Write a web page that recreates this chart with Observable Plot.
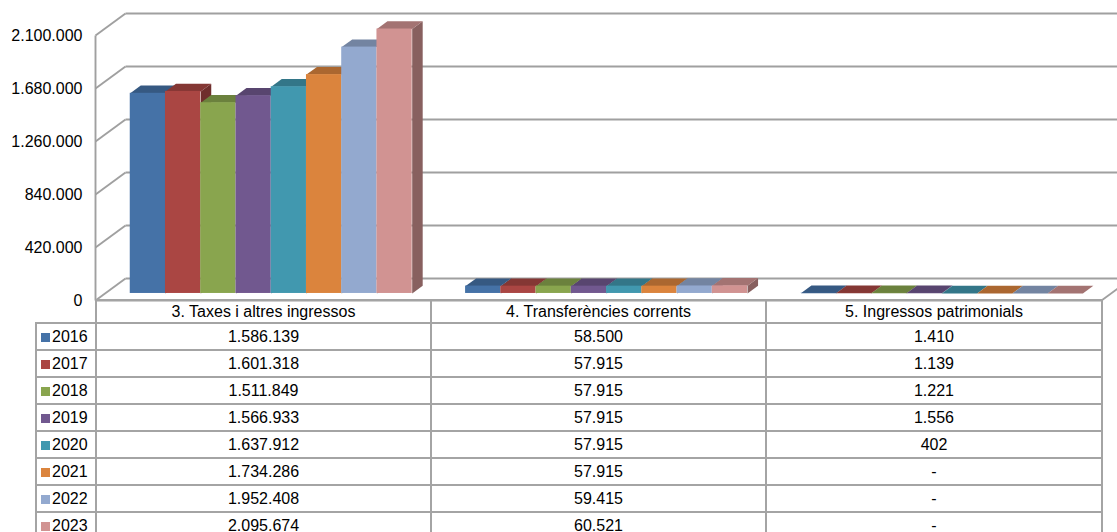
<!DOCTYPE html>
<html><head><meta charset="utf-8">
<script src="https://cdn.jsdelivr.net/npm/d3@7"></script>
<script src="https://cdn.jsdelivr.net/npm/@observablehq/plot@0.6"></script>
<style>
html,body{margin:0;padding:0;background:#fff;overflow:hidden;}
#wrap{position:relative;width:1117px;height:532px;font-family:"Liberation Sans",Arial,sans-serif;overflow:hidden;}
#chart{position:absolute;left:0;top:0;}
#tbl{position:absolute;left:35px;top:299px;border-collapse:collapse;table-layout:fixed;font-size:16px;color:#000;font-family:"Liberation Sans",Arial,sans-serif;}
#tbl td{border:2px solid #a4a4a4;text-align:center;padding:0;white-space:nowrap;overflow:hidden;line-height:18px;}
#tbl tr.h td{height:21px;}
#tbl tr.r td{height:25px;}
#tbl td.blank{border-top:none;border-left:none;}
#tbl td.leg{text-align:left;padding-left:4px;}
#tbl .sw{display:inline-block;width:9px;height:9px;margin-right:2px;vertical-align:0px;}
</style>
</head><body>
<div id="wrap"><div id="chart"></div></div>
<script>
const categories = ["3. Taxes i altres ingressos", "4. Transferències corrents", "5. Ingressos patrimonials"];
const years = ["2016", "2017", "2018", "2019", "2020", "2021", "2022", "2023"];
const colors = ["#4572A7", "#AA4643", "#89A54E", "#71588F", "#4198AF", "#DB843D", "#93A9CF", "#D19392"];
const taxes = [1586139, 1601318, 1511849, 1566933, 1637912, 1734286, 1952408, 2095674];
const transfers = [58500, 57915, 57915, 57915, 57915, 57915, 59415, 60521];
const patrimonials = [1410, 1139, 1221, 1556, 402, null, null, null];
const yTicks = [0, 420000, 840000, 1260000, 1680000, 2100000];

const series = [taxes, transfers, patrimonials];
const yMax = yTicks[yTicks.length - 1];
const locale = d3.formatLocale({decimal: ",", thousands: ".", grouping: [3], currency: ["", " €"]});
const fmt = locale.format(",d");

// 3D geometry (depth vector in data units)
const W = 1117, ML = 95, MR = 16, MT = 35, H = 315, MB = 15;
const bandPx = (W - ML - MR) / categories.length;
const DX = 30 / bandPx, DY = 22 / (H - MT - MB) * yMax;
const F1 = 0.32, F2 = 0.67, GAP = 0.075, BW = 0.1051;
const dd = F2 - F1;

const bars = [];
categories.forEach((c, i) => years.forEach((yr, j) => {
  const v = series[i][j] == null ? 0 : series[i][j];
  const x0 = i + GAP + j * BW + F1 * DX, x1 = x0 + BW;
  const b0 = F1 * DY, top = v + F1 * DY;
  bars.push({id: i + "-" + j, x0, x1, b0, top, color: colors[j],
    topColor: d3.color(colors[j]).darker(0.7).formatHex(),
    sideColor: d3.color(colors[j]).darker(1.2).formatHex()});
}));
const tops = bars.flatMap(b => [
  {id: b.id, x: b.x0, y: b.top, c: b.topColor},
  {id: b.id, x: b.x1, y: b.top, c: b.topColor},
  {id: b.id, x: b.x1 + dd * DX, y: b.top + dd * DY, c: b.topColor},
  {id: b.id, x: b.x0 + dd * DX, y: b.top + dd * DY, c: b.topColor}
]);
const sides = bars.flatMap(b => [
  {id: b.id, x: b.x1, y: b.b0, c: b.sideColor},
  {id: b.id, x: b.x1, y: b.top, c: b.sideColor},
  {id: b.id, x: b.x1 + dd * DX, y: b.top + dd * DY, c: b.sideColor},
  {id: b.id, x: b.x1 + dd * DX, y: b.b0 + dd * DY, c: b.sideColor}
]);

const gridC = "#a0a0a0", gridW = 1.9;
const nCat = categories.length;
const plot = Plot.plot({
  width: W, height: H,
  marginLeft: ML, marginRight: MR, marginTop: MT, marginBottom: MB,
  x: {type: "linear", domain: [0, nCat], axis: null},
  y: {type: "linear", domain: [0, yMax], axis: null},
  color: {type: "identity"},
  style: {overflow: "hidden", fontFamily: "'Liberation Sans', Arial, sans-serif", background: "white"},
  marks: [
    // back wall gridlines
    Plot.link(yTicks, {x1: DX, y1: d => d + DY, x2: nCat + DX + 0.3, y2: d => d + DY, stroke: gridC, strokeWidth: gridW}),
    // left wall diagonals
    Plot.link(yTicks, {x1: 0, y1: d => d, x2: DX, y2: d => d + DY, stroke: gridC, strokeWidth: gridW}),
    // front axis
    Plot.link([0], {x1: 0, y1: 0, x2: 0, y2: yMax, stroke: gridC, strokeWidth: gridW}),
    // floor front and right edges
    Plot.link([0], {x1: 0, y1: 0, x2: nCat, y2: 0, stroke: gridC, strokeWidth: gridW}),
    Plot.link([0], {x1: nCat, y1: 0, x2: nCat + DX, y2: DY, stroke: gridC, strokeWidth: gridW}),
    // bars
    Plot.line(sides, {x: "x", y: "y", z: "id", fill: "c", stroke: null, curve: "linear"}),
    Plot.line(tops, {x: "x", y: "y", z: "id", fill: "c", stroke: null, curve: "linear"}),
    Plot.rect(bars, {x1: "x0", x2: "x1", y1: "b0", y2: "top", fill: "color"}),
    // tick labels
    Plot.text(yTicks, {y: d => d, frameAnchor: "left", dx: -13, textAnchor: "end", text: d => fmt(d), fontSize: 16, fill: "#000"})
  ]
});
document.getElementById("chart").appendChild(plot);

// data table
const tbl = document.createElement("table");
tbl.id = "tbl";
const cg = document.createElement("colgroup");
[60, 335, 335, 336].forEach(w => { const c = document.createElement("col"); c.style.width = w + "px"; cg.appendChild(c); });
tbl.appendChild(cg);
const hr = document.createElement("tr"); hr.className = "h";
const blank = document.createElement("td"); blank.className = "blank"; hr.appendChild(blank);
categories.forEach(c => { const td = document.createElement("td"); td.textContent = c; hr.appendChild(td); });
tbl.appendChild(hr);
years.forEach((yr, j) => {
  const tr = document.createElement("tr"); tr.className = "r";
  const lg = document.createElement("td"); lg.className = "leg";
  const sw = document.createElement("span"); sw.className = "sw"; sw.style.background = colors[j];
  lg.appendChild(sw); lg.appendChild(document.createTextNode(yr));
  tr.appendChild(lg);
  series.forEach(s => { const td = document.createElement("td"); td.textContent = s[j] == null ? "-" : fmt(s[j]); tr.appendChild(td); });
  tbl.appendChild(tr);
});
document.getElementById("wrap").appendChild(tbl);
</script>
</body></html>
